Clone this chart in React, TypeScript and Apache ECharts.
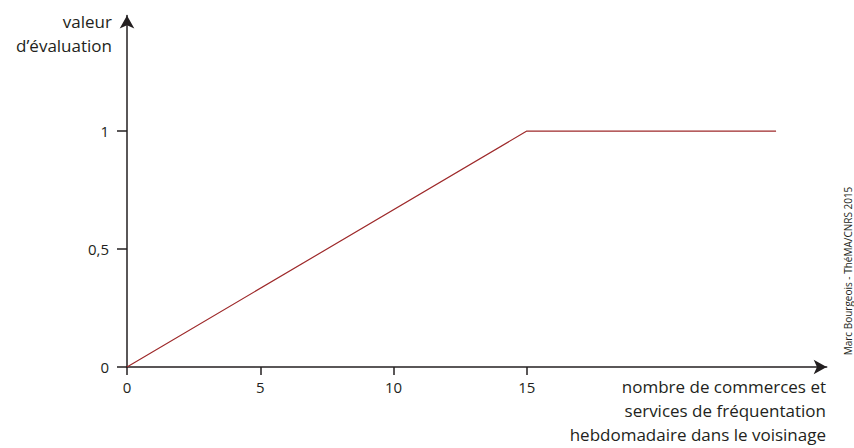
import React, { useEffect, useRef } from "react";
import * as echarts from "echarts";

const xValues = [0, 15, 24.35];
const yValues = [0, 1, 1];
const xTicks = [0, 5, 10, 15];
const yTicks = [0, 0.5, 1];
const yTitle = "valeur\nd’évaluation";
const xTitle = "nombre de commerces et\nservices de fréquentation\nhebdomadaire dans le voisinage";
const credit = "Marc Bourgeois - ThéMA/CNRS 2015";

const FONT = "'Open Sans', 'Noto Sans', sans-serif";
const INK = "#231f20";
const RED = "#9e2a2b";

export default function App() {
  const ref = useRef<HTMLDivElement>(null);
  useEffect(() => {
    if (!ref.current) return;
    const chart = echarts.init(ref.current, null, { renderer: "svg" });
    chart.setOption({
      animation: false,
      backgroundColor: "#ffffff",
      grid: { left: 127, right: 27.3, top: 15.4, bottom: 81, containLabel: false },
      xAxis: {
        type: "value",
        min: 0,
        max: 26.25,
        interval: 5,
        splitLine: { show: false },
        axisLine: {
          show: true,
          onZero: false,
          symbol: ["none", "arrow"],
          symbolSize: [11, 13],
          lineStyle: { color: INK, width: 1.5 },
        },
        axisTick: { show: true, length: 8, customValues: xTicks, lineStyle: { color: INK, width: 1.5 } },
        axisLabel: {
          customValues: xTicks,
          margin: 12,
          fontFamily: FONT,
          fontSize: 15,
          color: INK,
        },
      },
      yAxis: {
        type: "value",
        min: 0,
        max: 1.49,
        interval: 0.5,
        splitLine: { show: false },
        axisLine: {
          show: true,
          onZero: false,
          symbol: ["none", "arrow"],
          symbolSize: [11, 13],
          lineStyle: { color: INK, width: 1.5 },
        },
        axisTick: { show: true, length: 10, customValues: yTicks, lineStyle: { color: INK, width: 1.5 } },
        axisLabel: {
          customValues: yTicks,
          margin: 18,
          fontFamily: FONT,
          fontSize: 15,
          color: INK,
          formatter: (v: number) => String(v).replace(".", ","),
        },
      },
      series: [
        {
          type: "line",
          data: xValues.map((x, i) => [x, yValues[i]]),
          showSymbol: false,
          lineStyle: { color: RED, width: 1.2 },
          z: 1,
        },
      ],
      graphic: [
        {
          type: "text",
          x: 112,
          y: 9,
          style: {
            text: yTitle,
            font: `17px ${FONT}`,
            fill: INK,
            align: "right",
            verticalAlign: "top",
            lineHeight: 24,
          },
        },
        {
          type: "text",
          x: 826,
          y: 374,
          style: {
            text: xTitle,
            font: `17px ${FONT}`,
            fill: INK,
            align: "right",
            verticalAlign: "top",
            lineHeight: 24,
          },
        },
        {
          type: "text",
          x: 848,
          y: 271,
          rotation: Math.PI / 2,
          style: {
            text: credit,
            font: `10px ${FONT}`,
            fill: INK,
            align: "center",
            verticalAlign: "middle",
          },
        },
      ],
    });
    return () => chart.dispose();
  }, []);
  return (
    <div
      ref={ref}
      style={{ position: "fixed", left: 0, top: 0, width: 854, height: 448 }}
    />
  );
}
